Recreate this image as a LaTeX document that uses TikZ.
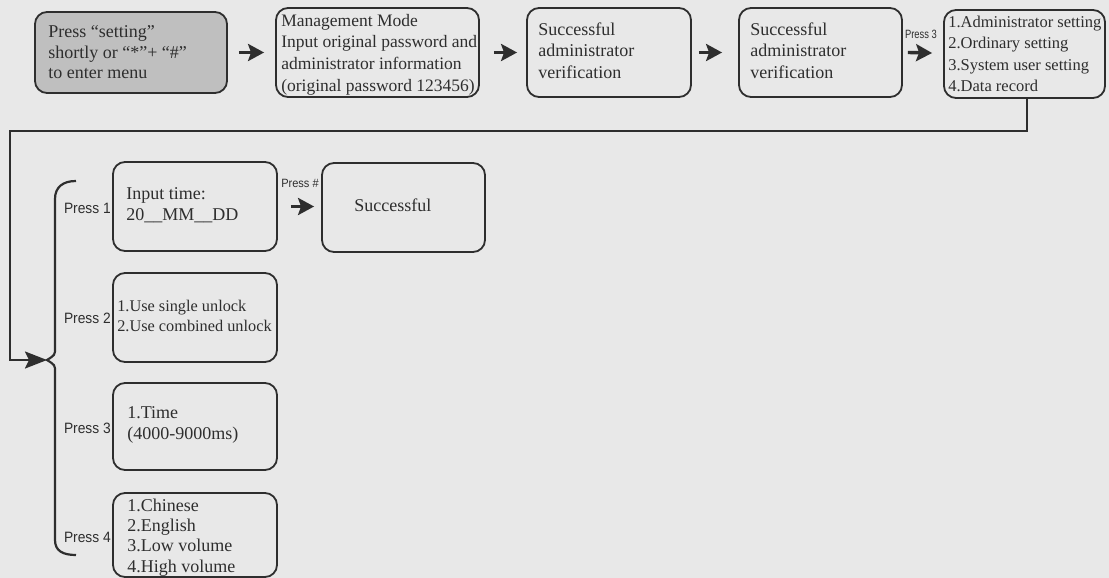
\documentclass[tikz,border=0pt]{standalone}
\usepackage{fontspec}
\usepackage{graphicx}
\setmainfont{Liberation Serif}
\newfontfamily\narrowfont[FakeStretch=0.92]{Liberation Sans}
\usetikzlibrary{arrows.meta}
\definecolor{bg}{HTML}{E8E8E8}
\definecolor{ink}{HTML}{2E2E2E}
\definecolor{grayfill}{HTML}{BFBFBF}
\tikzset{
 box/.style={draw=ink, line width=1.8pt, rounded corners=12pt, inner sep=0pt},
 txt/.style={anchor=west, align=left, inner sep=0pt, text=ink, font=\fontsize{18}{20.5}\selectfont},
 plabel/.style={inner sep=0pt, text=ink, font=\narrowfont\fontsize{15}{17}\selectfont},
 alabel/.style={inner sep=0pt, text=ink, font=\narrowfont\fontsize{12}{14}\selectfont},
 flow/.style={draw=ink, line width=3.4pt, -{Stealth[length=16pt,width=17pt,inset=3pt]}},
 wire/.style={draw=ink, line width=2.2pt},
}
\begin{document}
\begin{tikzpicture}[x=1pt,y=-1pt]
\fill[bg] (0,0) rectangle (1109,578);
\useasboundingbox (0,0) rectangle (1109,578);

% top row
\node[box, fill=grayfill, minimum width=192pt, minimum height=81pt] (b1) at (131,52.5) {};
\node[txt] (t1) at ([xshift=14pt]b1.west) {Press “setting”\\shortly or “*”+ “\#”\\to enter menu};

\node[box, minimum width=203pt, minimum height=89pt] (b2) at (377.5,52.5) {};
\node[txt, font=\fontsize{17.5}{21.7}\selectfont] (t2) at ([xshift=6pt,yshift=-2pt]b2.west) {Management Mode\\Input original password and\\administrator information\\(original password 123456)};

\node[box, minimum width=164pt, minimum height=89pt] (b3) at (609,52.5) {};
\node[txt, font=\fontsize{18}{21.5}\selectfont] (t3) at ([xshift=12pt,yshift=2pt]b3.west) {Successful\\administrator\\verification};

\node[box, minimum width=163pt, minimum height=89pt] (b4) at (820.5,52.5) {};
\node[txt, font=\fontsize{18}{21.5}\selectfont] (t4) at ([xshift=12pt,yshift=2pt]b4.west) {Successful\\administrator\\verification};

\node[box, minimum width=161pt, minimum height=88pt] (b5) at (1024.5,54) {};
\node[txt, font=\fontsize{16.5}{21.3}\selectfont] (t5) at ([xshift=5pt]b5.west) {1.Administrator setting\\2.Ordinary setting\\3.System user setting\\4.Data record};

\draw[flow] ([xshift=11pt]b1.east) -- ([xshift=-11pt]b2.west);
\draw[flow] ([xshift=14pt]b2.east) -- ([xshift=-9pt]b3.west);
\draw[flow] ([xshift=7pt]b3.east) -- ([xshift=-16pt]b4.west);
\draw[flow] ([xshift=5pt]b4.east) -- ([xshift=-11pt,yshift=1pt]b5.west);
\node[alabel] (l3) at (921,34) {\scalebox{0.85}[1]{Press 3}};

% lower part
\node[box, minimum width=164pt, minimum height=89pt] (pb1) at (195,206.5) {};
\node[txt] (tp1) at ([xshift=14pt,yshift=1.5pt]pb1.west) {Input time:\\20\_\_MM\_\_DD};

\node[box, minimum width=163pt, minimum height=89pt] (sb) at (403.5,207.5) {};
\node[txt] (ts) at ([xshift=33pt,yshift=2pt]sb.west) {Successful};

\draw[flow] ([xshift=13pt]pb1.east) -- ([xshift=-7pt,yshift=1pt]sb.west);
\node[alabel] (l1) at (300,183) {Press \#};

\node[box, minimum width=164pt, minimum height=89pt] (pb2) at (195,317.5) {};
\node[txt, font=\fontsize{16.3}{20}\selectfont] (tp2) at ([xshift=5pt,yshift=2pt]pb2.west) {1.Use single unlock\\2.Use combined unlock};

\node[box, minimum width=164pt, minimum height=87pt] (pb3) at (195,426.5) {};
\node[txt] (tp3) at ([xshift=15pt,yshift=1.5pt]pb3.west) {1.Time\\(4000-9000ms)};

\node[box, minimum width=164pt, minimum height=84pt] (pb4) at (195,535) {};
\node[txt, font=\fontsize{18}{20.3}\selectfont] (tp4) at ([xshift=15pt,yshift=-2.5pt]pb4.west) {1.Chinese\\2.English\\3.Low volume\\4.High volume};

\node[plabel, anchor=east] (p1) at (111,208) {Press 1};
\node[plabel, anchor=east] (p2) at (111,318) {Press 2};
\node[plabel, anchor=east] (p3) at (111,428) {Press 3};
\node[plabel, anchor=east] (p4) at (111,537) {Press 4};

% brace
\coordinate (tip) at (47,360);
\draw[wire] (76,181) .. controls (63,181) and (55,187) .. (55,199) -- (55,348)
  .. controls (55,355) .. (tip) .. controls (55,365) .. (55,372) -- (55,540)
  .. controls (55,551) and (63,555) .. (76,555);

% connector from menu to brace
\coordinate (c1) at (10,131);
\draw[wire, -{Stealth[length=22pt,width=17pt,inset=4pt]}] ([xshift=2.5pt]b5.south) |- (c1) |- (tip);
\end{tikzpicture}
\end{document}
